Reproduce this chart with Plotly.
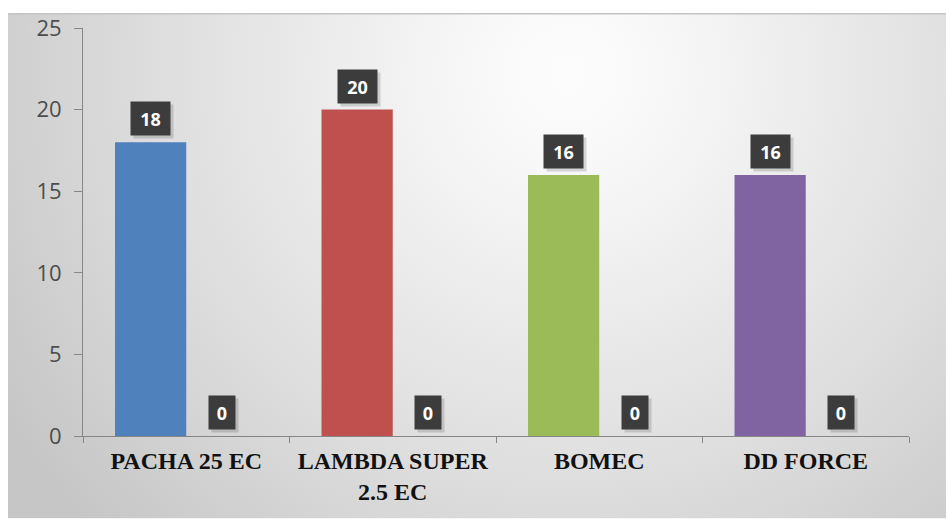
import base64
import plotly.graph_objects as go

# ---- data ----
categories = ["PACHA 25 EC", "LAMBDA SUPER<br>2.5 EC", "BOMEC", "DD FORCE"]
values_main = [18, 20, 16, 16]
values_second = [0, 0, 0, 0]
bar_colors = ["#4F81BD", "#C0504D", "#9BBB59", "#8064A2"]
y_ticks = [0, 5, 10, 15, 20, 25]

# ---- layout geometry ----
W, H = 946, 519
ML, MR, MT, MB = 83, 37, 25, 83
PW = W - ML - MR
PH = H - MT - MB
BARGAP = 0.31
OFF = (1 - BARGAP) / 4

# background (Excel-like radial gradient) as an SVG image
BX0, BY0 = 8, 10
BW, BH = W - BX0, H - BY0
svg = f'''<svg xmlns="http://www.w3.org/2000/svg" width="{BW}" height="{BH}" viewBox="0 0 {BW} {BH}" preserveAspectRatio="none">
<defs><radialGradient id="g" gradientUnits="userSpaceOnUse" cx="560" cy="60" r="660">
<stop offset="0" stop-color="#fdfdfd"/>
<stop offset="0.18" stop-color="#f6f6f6"/>
<stop offset="0.62" stop-color="#dedede"/>
<stop offset="1" stop-color="#c6c6c6"/>
</radialGradient></defs>
<rect x="0" y="0" width="{BW}" height="{BH}" fill="url(#g)"/>
<line x1="0" y1="0.75" x2="{BW}" y2="0.75" stroke="#c4c4c4" stroke-width="1.5"/>
</svg>'''
svg_uri = "data:image/svg+xml;base64," + base64.b64encode(svg.encode()).decode()

fig = go.Figure()
fig.add_trace(go.Bar(x=categories, y=values_main, marker_color=bar_colors,
                     marker_line_width=0, offsetgroup="a", hoverinfo="skip"))
fig.add_trace(go.Bar(x=categories, y=values_second, marker_color="#7F7F7F",
                     marker_line_width=0, offsetgroup="b", hoverinfo="skip"))

annotations = []
def add_label(xpos, val):
    txt = str(val)
    w = 13 * (len(txt) + 1)
    # soft shadow
    annotations.append(dict(x=xpos, y=val, xref="x", yref="y", text="", showarrow=False,
                            yanchor="bottom", xanchor="center", width=w, height=33,
                            bgcolor="rgba(0,0,0,0.14)", borderpad=0, xshift=3, yshift=3))
    annotations.append(dict(x=xpos, y=val, xref="x", yref="y", text=txt, showarrow=False,
                            yanchor="bottom", xanchor="center", width=w, height=33,
                            bgcolor="#3C3C3C", borderpad=0, yshift=6,
                            font=dict(family="Open Sans", size=18, color="white", weight="bold")))

for i, v in enumerate(values_main):
    add_label(i - OFF, v)
for i, v in enumerate(values_second):
    add_label(i + OFF, v)

fig.update_layout(
    width=W, height=H,
    margin=dict(l=ML, r=MR, t=MT, b=MB, pad=0),
    paper_bgcolor="white",
    plot_bgcolor="rgba(0,0,0,0)",
    barmode="group", bargap=BARGAP, bargroupgap=0,
    showlegend=False,
    annotations=annotations,
    images=[dict(source=svg_uri, xref="paper", yref="paper",
                 x=(BX0 - ML) / PW, y=(H - MB - BY0) / PH,
                 sizex=BW / PW, sizey=BH / PH,
                 xanchor="left", yanchor="top", sizing="stretch", layer="below")],
    xaxis=dict(type="category", tickson="boundaries", ticks="outside", ticklen=6,
               tickcolor="#868686", showline=True, linecolor="#868686", linewidth=1,
               showgrid=False, range=[-0.5, 3.5], ticklabelstandoff=3,
               tickfont=dict(family="Liberation Serif", size=24, color="#111111", weight="bold")),
    yaxis=dict(range=[0, 25], tickvals=y_ticks, ticks="outside", ticklen=8,
               tickcolor="#868686", showline=True, linecolor="#868686", linewidth=1,
               showgrid=False, zeroline=False, ticklabelstandoff=8,
               tickfont=dict(family="Open Sans", size=22, color="#4D4D4D")),
)

fig.write_html("out.html")
